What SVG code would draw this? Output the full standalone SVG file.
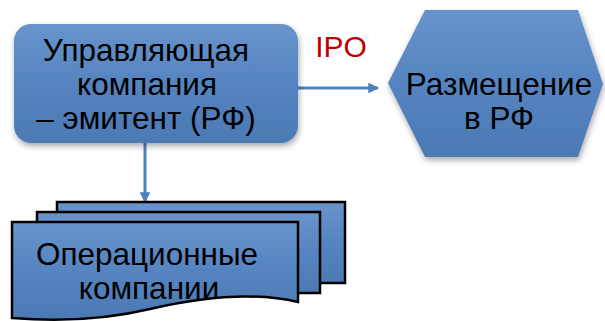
<svg xmlns="http://www.w3.org/2000/svg" width="605" height="321" viewBox="0 0 605 321">
<defs>
<linearGradient id="g" x1="0" y1="0" x2="0" y2="1">
<stop offset="0" stop-color="#6894cb"/>
<stop offset="0.5" stop-color="#5584c0"/>
<stop offset="1" stop-color="#4b79b4"/>
</linearGradient>
<filter id="sh" x="-10%" y="-10%" width="125%" height="130%">
<feGaussianBlur in="SourceAlpha" stdDeviation="3"/>
<feOffset dx="1" dy="3" result="b"/>
<feComponentTransfer><feFuncA type="linear" slope="0.35"/></feComponentTransfer>
<feMerge><feMergeNode/><feMergeNode in="SourceGraphic"/></feMerge>
</filter>
<marker id="ah" viewBox="0 0 10 10" refX="9" refY="5" markerWidth="5.5" markerHeight="3.6" orient="auto" markerUnits="strokeWidth">
<path d="M0,0 L10,5 L0,10 Z" fill="#4f81bd"/>
</marker>
<style>
.t{font-family:"Liberation Sans",Arial,sans-serif;font-size:31.5px;fill:#000;text-anchor:middle}
.doc{fill:url(#g);stroke:#000;stroke-width:2.5;stroke-linejoin:miter}
.c{stroke:#4f81bd;stroke-width:3;fill:none;marker-end:url(#ah)}
</style>
</defs>
<g id="connectors">
<line class="c" x1="298" y1="88" x2="378" y2="88"/>
<line class="c" x1="145" y1="143" x2="145" y2="202"/>
</g>
<g id="manager">
<rect x="14" y="24" width="284" height="119" rx="17" fill="url(#g)" filter="url(#sh)"/>
<text class="t" x="146" y="61">Управляющая</text>
<text class="t" x="147" y="95">компания</text>
<text class="t" x="146" y="129">– эмитент (РФ)</text>
</g>
<g id="ipo-label">
<text x="341" y="57" style="font-family:'Liberation Sans',Arial,sans-serif;font-size:30px;fill:#c00000;text-anchor:middle">IPO</text>
</g>
<g id="placement">
<polygon points="388,83 425,10 578,10 603,84 578,157 425,157" fill="url(#g)" filter="url(#sh)"/>
<text class="t" x="499" y="95">Размещение</text>
<text class="t" x="499" y="129">в РФ</text>
</g>
<g id="operating">
<rect class="doc" x="57" y="202" width="288" height="81"/>
<rect class="doc" x="37" y="212" width="283" height="81"/>
<path class="doc" d="M12,222 H298 V302 C255,292 205,296 150,309 C100,321 50,321 12,318 Z"/>
<text class="t" x="147" y="265">Операционные</text>
<text class="t" x="149" y="299">компании</text>
</g>
</svg>
